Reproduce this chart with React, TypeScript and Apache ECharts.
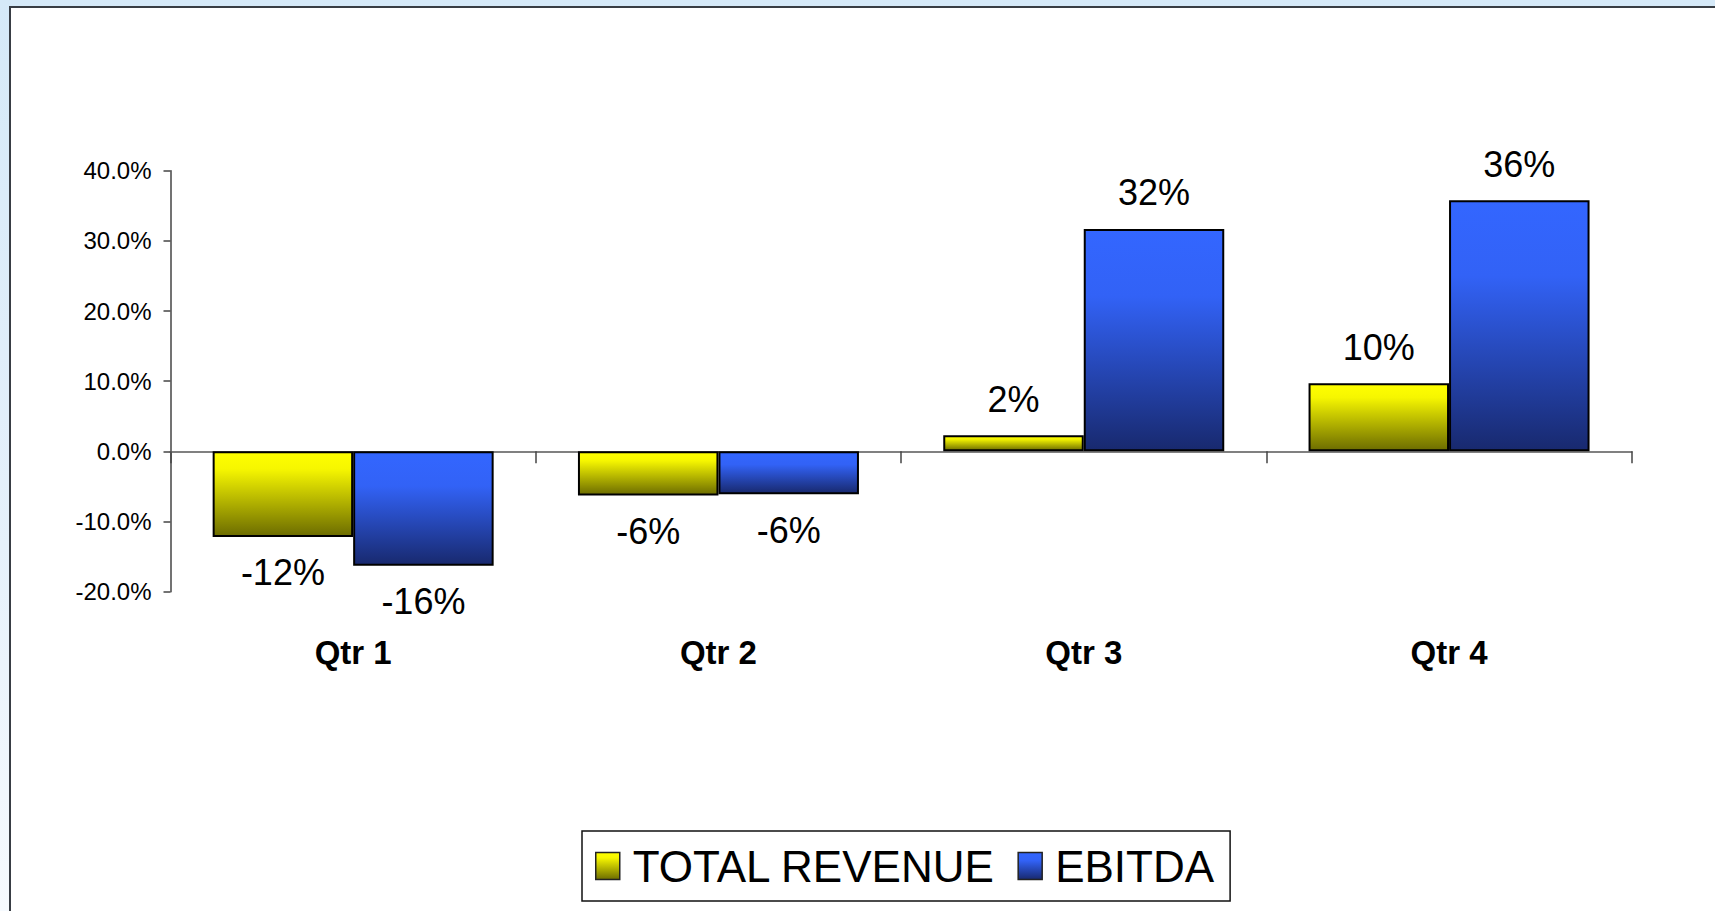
import React, { useEffect, useRef } from "react";
import * as echarts from "echarts";

const categories = ["Qtr 1", "Qtr 2", "Qtr 3", "Qtr 4"];
const revenueValues = [-12.2, -6.3, 2.3, 9.7];
const ebitdaValues = [-16.3, -6.1, 31.7, 35.8];
const seriesNames = ["TOTAL REVENUE", "EBITDA"];
const yMin = -20;
const yMax = 40;
const yInterval = 10;

const FONT = "'Liberation Sans', Arial, Helvetica, sans-serif";

function grad(stops: [number, string][]) {
  return new echarts.graphic.LinearGradient(
    0, 0, 0, 1,
    stops.map(([offset, color]) => ({ offset, color }))
  );
}

export default function App() {
  const ref = useRef<HTMLDivElement>(null);

  useEffect(() => {
    if (!ref.current) return;
    const chart = echarts.init(ref.current, null, { renderer: "svg" });

    const yellow = grad([
      [0, "#FFFF00"],
      [0.2, "#F6F600"],
      [1, "#6C6C00"],
    ]);
    const blue = grad([
      [0, "#3366FF"],
      [0.3, "#3262F6"],
      [1, "#18296E"],
    ]);

    const mkData = (vals: number[]) =>
      vals.map((v) => ({
        value: v,
        label: { position: v < 0 ? "bottom" : "top" },
      }));

    const labelCommon = {
      show: true,
      distance: 18,
      color: "#000",
      fontSize: 36,
      fontFamily: FONT,
      formatter: (p: any) => Math.round(p.value) + "%",
    };

    chart.setOption({
      animation: false,
      backgroundColor: "transparent",
      grid: {
        left: 170.5,
        right: 83.3,
        top: 170.7,
        bottom: 319.3,
        containLabel: false,
      },
      legend: {
        left: 582,
        top: 831,
        orient: "horizontal",
        data: seriesNames,
        icon: "rect",
        itemWidth: 24,
        itemHeight: 27,
        itemGap: 22,
        padding: [13, 16, 13, 13],
        borderColor: "#111",
        borderWidth: 1.5,
        backgroundColor: "#fff",
        itemStyle: { borderColor: "#222", borderWidth: 1.5 },
        textStyle: {
          fontSize: 44,
          fontFamily: FONT,
          color: "#000",
          padding: [0, 0, 0, 8],
        },
      },
      xAxis: {
        type: "category",
        data: categories,
        axisLine: { onZero: true, lineStyle: { color: "#808080", width: 2 } },
        axisTick: {
          show: true,
          alignWithLabel: false,
          length: 12,
          lineStyle: { color: "#444", width: 1.5 },
        },
        axisLabel: {
          margin: 44,
          fontSize: 33,
          fontWeight: "bold",
          fontFamily: FONT,
          color: "#000",
        },
        splitLine: { show: false },
      },
      yAxis: {
        type: "value",
        min: yMin,
        max: yMax,
        interval: yInterval,
        axisLine: { show: true, lineStyle: { color: "#444", width: 1.5 } },
        axisTick: { show: true, length: 7, lineStyle: { color: "#444", width: 1.5 } },
        axisLabel: {
          margin: 19,
          fontSize: 24,
          fontFamily: FONT,
          color: "#000",
          formatter: (v: number) => v.toFixed(1) + "%",
        },
        splitLine: { show: false },
      },
      series: [
        {
          name: seriesNames[0],
          type: "bar",
          data: mkData(revenueValues),
          barWidth: 140.5,
          barGap: "0%",
          itemStyle: { color: yellow, borderColor: "#000", borderWidth: 2 },
          label: labelCommon,
        },
        {
          name: seriesNames[1],
          type: "bar",
          data: mkData(ebitdaValues),
          barWidth: 140.5,
          barGap: "0%",
          itemStyle: { color: blue, borderColor: "#000", borderWidth: 2 },
          label: labelCommon,
        },
      ],
    });

    return () => chart.dispose();
  }, []);

  return (
    <div
      style={{
        position: "fixed",
        left: 0,
        top: 0,
        width: 1715,
        height: 911,
        overflow: "hidden",
        background: "linear-gradient(to bottom, #D5E9F8 0%, #E6F1FB 60%, #F6FAFE 100%)",
      }}
    >
      <div
        style={{
          position: "absolute",
          left: 9,
          top: 6,
          width: 1730,
          height: 930,
          background: "#fff",
          borderTop: "2px solid #383D44",
          borderLeft: "2px solid #383D44",
          boxSizing: "border-box",
        }}
      />
      <div
        ref={ref}
        style={{ position: "absolute", left: 0, top: 0, width: 1715, height: 911 }}
      />
    </div>
  );
}
